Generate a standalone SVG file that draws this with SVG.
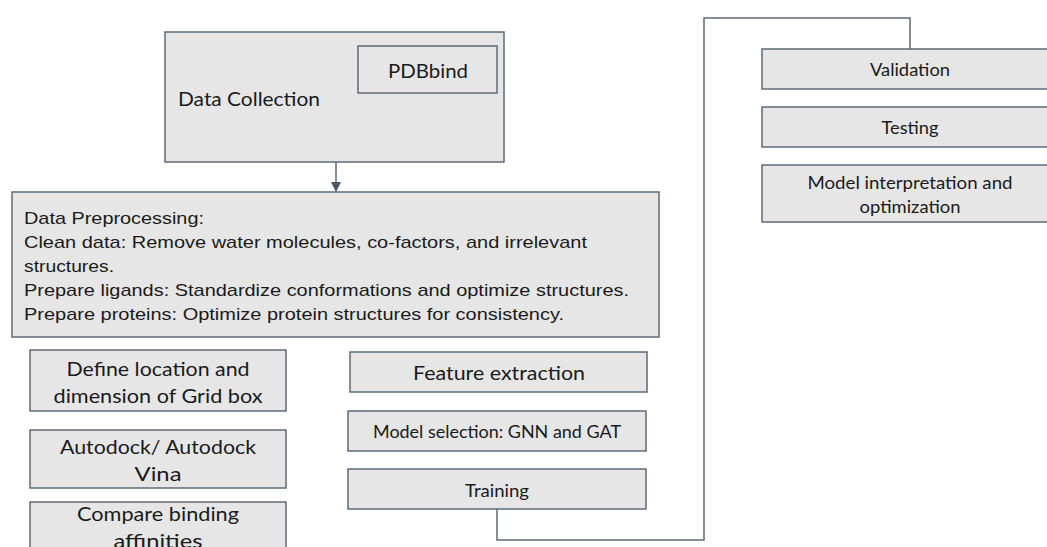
<svg xmlns="http://www.w3.org/2000/svg" width="1047" height="547" viewBox="0 0 1047 547">
  <style>
    .box { fill: #e6e6e6; stroke: #5f6b78; stroke-width: 1.5; }
    .cal { font-family: Lato, "Open Sans", sans-serif; fill: #1a1a1a; }
    .lg { font-size: 20px; }
    .sm { font-size: 17px; }
    .ari { font-family: "Liberation Sans", Arial, sans-serif; fill: #1a1a1a; font-size: 17px; }
    .mid { text-anchor: middle; }
    .wire { fill: none; stroke: #5f6b78; stroke-width: 1.5; }
  </style>
  <defs>
    <marker id="arrow" markerWidth="10" markerHeight="10" refX="9" refY="5" orient="auto" markerUnits="userSpaceOnUse">
      <path d="M0,0 L10,5 L0,10 Z" fill="#4a5666"/>
    </marker>
  </defs>
  <rect width="1047" height="547" fill="#ffffff"/>

  <g id="connectors">
    <line class="wire" x1="336" y1="162" x2="336" y2="191" marker-end="url(#arrow)"/>
    <polyline class="wire" points="497,509 497,540 704,540 704,18 910,18 910,49"/>
  </g>

  <g id="data-collection">
    <rect class="box" x="165" y="32" width="339" height="130"/>
    <text class="cal lg" x="178" y="106" textLength="142" lengthAdjust="spacingAndGlyphs">Data Collection</text>
  </g>
  <g id="pdbbind">
    <rect class="box" x="358" y="46" width="139" height="47"/>
    <text class="cal lg mid" x="428" y="78" textLength="80" lengthAdjust="spacingAndGlyphs">PDBbind</text>
  </g>

  <g id="preprocessing">
    <rect class="box" x="12" y="192" width="647" height="145"/>
    <text class="ari" x="24" y="224" textLength="180" lengthAdjust="spacingAndGlyphs">Data Preprocessing:</text>
    <text class="ari" x="24" y="248" textLength="563" lengthAdjust="spacingAndGlyphs">Clean data: Remove water molecules, co-factors, and irrelevant</text>
    <text class="ari" x="24" y="272" textLength="90" lengthAdjust="spacingAndGlyphs">structures.</text>
    <text class="ari" x="24" y="296" textLength="605" lengthAdjust="spacingAndGlyphs">Prepare ligands: Standardize conformations and optimize structures.</text>
    <text class="ari" x="24" y="320" textLength="540" lengthAdjust="spacingAndGlyphs">Prepare proteins: Optimize protein structures for consistency.</text>
  </g>

  <g id="grid-box">
    <rect class="box" x="30" y="350" width="256" height="61"/>
    <text class="cal lg mid" x="158" y="376" textLength="183" lengthAdjust="spacingAndGlyphs">Define location and</text>
    <text class="cal lg mid" x="158" y="403" textLength="209" lengthAdjust="spacingAndGlyphs">dimension of Grid box</text>
  </g>
  <g id="autodock">
    <rect class="box" x="30" y="430" width="256" height="58"/>
    <text class="cal lg mid" x="158" y="454" textLength="196" lengthAdjust="spacingAndGlyphs">Autodock/ Autodock</text>
    <text class="cal lg mid" x="158" y="481" textLength="47" lengthAdjust="spacingAndGlyphs">Vina</text>
  </g>
  <g id="compare">
    <rect class="box" x="30" y="502" width="256" height="60"/>
    <text class="cal lg mid" x="158" y="521" textLength="162" lengthAdjust="spacingAndGlyphs">Compare binding</text>
    <text class="cal lg mid" x="158" y="548" textLength="89" lengthAdjust="spacingAndGlyphs">affinities</text>
  </g>

  <g id="feature-extraction">
    <rect class="box" x="350" y="352" width="297" height="40"/>
    <text class="cal lg mid" x="499" y="380" textLength="172" lengthAdjust="spacingAndGlyphs">Feature extraction</text>
  </g>
  <g id="model-selection">
    <rect class="box" x="348" y="411" width="298" height="40"/>
    <text class="cal sm mid" x="497" y="438" textLength="248" lengthAdjust="spacingAndGlyphs">Model selection: GNN and GAT</text>
  </g>
  <g id="training">
    <rect class="box" x="348" y="469" width="298" height="40"/>
    <text class="cal sm mid" x="497" y="497" textLength="64" lengthAdjust="spacingAndGlyphs">Training</text>
  </g>

  <g id="validation">
    <rect class="box" x="762" y="49" width="290" height="40"/>
    <text class="cal sm mid" x="910" y="76" textLength="80" lengthAdjust="spacingAndGlyphs">Validation</text>
  </g>
  <g id="testing">
    <rect class="box" x="762" y="107" width="290" height="40"/>
    <text class="cal sm mid" x="910" y="134" textLength="57" lengthAdjust="spacingAndGlyphs">Testing</text>
  </g>
  <g id="interpretation">
    <rect class="box" x="762" y="165" width="290" height="57"/>
    <text class="cal sm mid" x="910" y="189" textLength="205" lengthAdjust="spacingAndGlyphs">Model interpretation and</text>
    <text class="cal sm mid" x="910" y="213" textLength="101" lengthAdjust="spacingAndGlyphs">optimization</text>
  </g>
</svg>
